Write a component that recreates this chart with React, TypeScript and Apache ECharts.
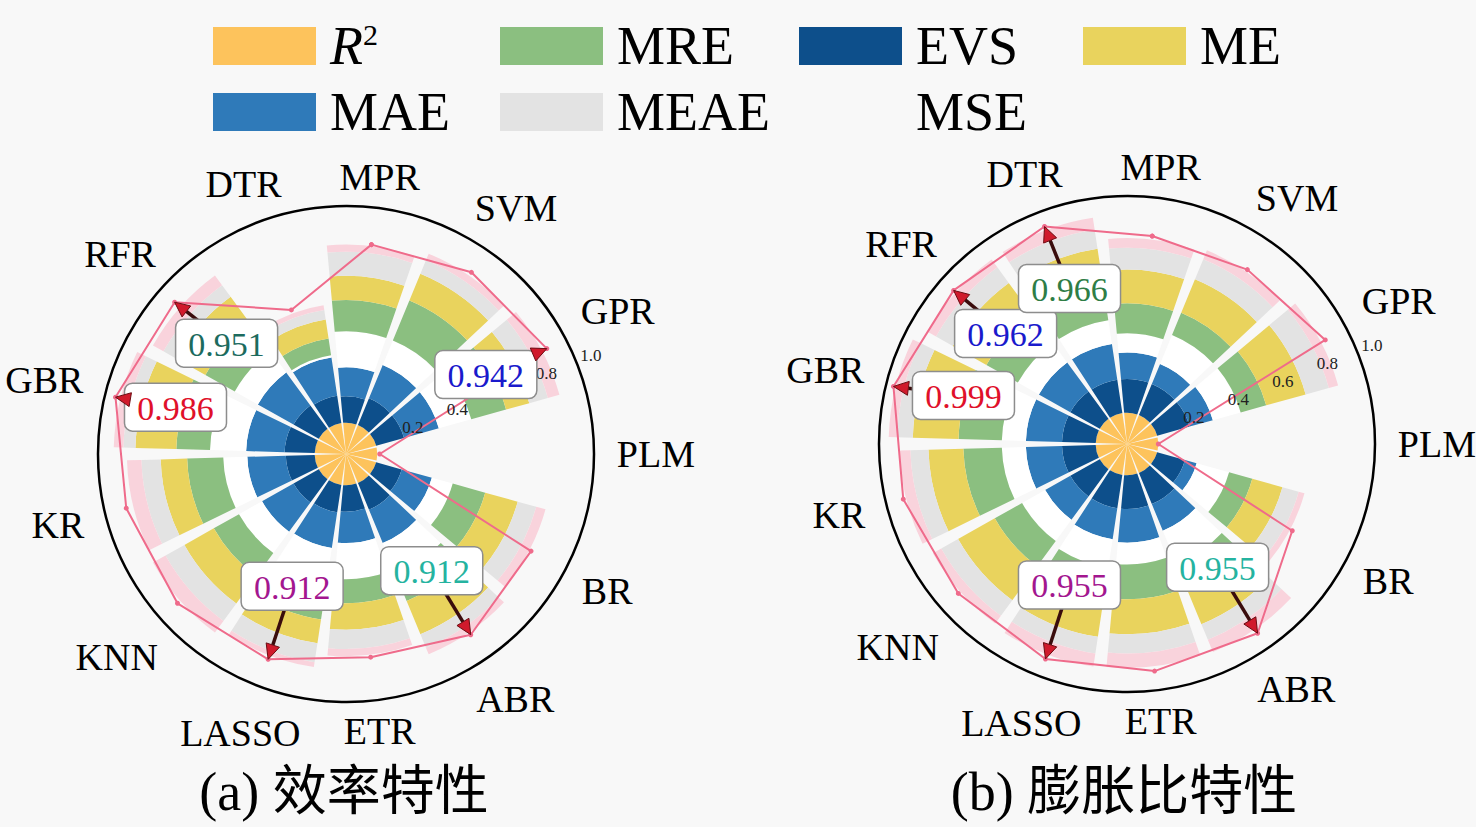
import React, { useEffect, useRef } from 'react';
import * as echarts from 'echarts';

// ---------- data ----------
const categories = ['MPR', 'SVM', 'GPR', 'PLM', 'BR', 'ABR', 'ETR', 'LASSO', 'KNN', 'KR', 'GBR', 'RFR', 'DTR'];

// (a) efficiency – stacked radial segments
const r2A = [0.13, 0.13, 0.13, 0.13, 0.13, 0.13, 0.13, 0.13, 0.13, 0.13, 0.13, 0.13, 0.13];
const evsA = [0.11, 0.12, 0.12, 0, 0.11, 0.12, 0.11, 0.115, 0.12, 0.12, 0.125, 0.12, 0.115];
const maeA = [0.12, 0.15, 0.15, 0, 0.13, 0.15, 0.13, 0.15, 0.15, 0.16, 0.16, 0.17, 0.16];
const mseA = [0.15, 0.11, 0.14, 0, 0.09, 0.14, 0.15, 0.15, 0.11, 0.1, 0.15, 0.11, 0.01];
const mreA = [0.13, 0.18, 0.15, 0, 0.14, 0.12, 0.1, 0.15, 0.12, 0.15, 0.14, 0.14, 0.07];
const meA = [0.1, 0.12, 0.1, 0, 0.14, 0.15, 0.11, 0.1, 0.14, 0.11, 0.17, 0.14, 0.08];
const meaeA = [0.1, 0.06, 0.08, 0, 0.08, 0.06, 0.08, 0.08, 0.09, 0.08, 0.05, 0.06, 0.04];
const capA = [0.03, 0.03, 0.05, 0, 0.04, 0.03, 0.03, 0.02, 0.06, 0.06, 0.04, 0.05, 0.02];
const lineA = [0.876, 0.917, 0.942, 0.14, 0.868, 0.912, 0.85, 0.912, 0.935, 0.94, 0.986, 0.951, 0.64];

// (b) expansion ratio
const r2B = [0.13, 0.13, 0.13, 0.13, 0.13, 0.13, 0.13, 0.13, 0.13, 0.13, 0.13, 0.13, 0.13];
const evsB = [0.14, 0.14, 0.14, 0, 0.12, 0.14, 0.14, 0.14, 0.14, 0.14, 0.14, 0.14, 0.14];
const maeB = [0.11, 0.09, 0.1, 0, 0.05, 0.12, 0.14, 0.13, 0.12, 0.15, 0.15, 0.15, 0.15];
const mseB = [0.08, 0.13, 0.12, 0, 0.14, 0.15, 0.09, 0.12, 0.11, 0.1, 0.1, 0.1, 0.1];
const mreB = [0.125, 0.1, 0.11, 0, 0.1, 0.125, 0.145, 0.145, 0.13, 0.16, 0.18, 0.15, 0.15];
const meB = [0.14, 0.15, 0.17, 0, 0.13, 0.145, 0.145, 0.145, 0.175, 0.145, 0.19, 0.16, 0.15];
const meaeB = [0.09, 0.09, 0.1, 0, 0.07, 0.07, 0.08, 0.07, 0.08, 0.075, 0.065, 0.08, 0.08];
const capB = [0.04, 0.04, 0.04, 0, 0.025, 0.055, 0.06, 0.055, 0.04, 0.045, 0.035, 0.04, 0.05];
const lineB = [0.87, 0.88, 0.93, 0.13, 0.775, 0.955, 0.95, 0.955, 0.936, 0.957, 0.999, 0.962, 0.966];

// annotations (category, text, colour)
const annotA = [
  { cat: 'GBR', text: '0.986', color: '#e0102a' },
  { cat: 'RFR', text: '0.951', color: '#1c6b5e' },
  { cat: 'GPR', text: '0.942', color: '#1a1acc' },
  { cat: 'LASSO', text: '0.912', color: '#a3168f' },
  { cat: 'ABR', text: '0.912', color: '#25b3a0' },
];
const annotB = [
  { cat: 'GBR', text: '0.999', color: '#e0102a' },
  { cat: 'RFR', text: '0.962', color: '#1a1acc' },
  { cat: 'DTR', text: '0.966', color: '#2e7d46' },
  { cat: 'LASSO', text: '0.955', color: '#a3168f' },
  { cat: 'ABR', text: '0.955', color: '#25b3a0' },
];
// layout: box-centre offsets (px) from the arrow tip
const boxOffsetA = [[60, 10], [52, 41], [-61, 26], [24, -73], [-39, -64]];
const boxOffsetB = [[70, 9], [52, 43], [25, 62], [24, -74], [-40, -66]];

// radial tick labels visible in each panel (0.6 of panel a is hidden under a box)
const radialTicksA = [0.2, 0.4, 0.8, 1.0];
const radialTicksB = [0.2, 0.4, 0.6, 0.8, 1.0];

// ---------- style ----------
const SERIF = '"Liberation Serif", "Times New Roman", serif';
const LABEL_FONT = `38px ${SERIF}`;
const COL = {
  r2: '#fdc35c', evs: '#0d4f8b', mae: '#2f7ab9', mse: '#ffffff',
  mre: '#8bbf80', me: '#e9d35d', meae: '#e3e3e3', cap: '#f9d3dc', line: '#ef6b8b',
};
const BG = '#f8f8f8';
const START = 3.5 * (360 / categories.length);
const LABEL_GAP = 265; // px from centre to the near edge of a category label
const LABEL_HALF_H = 9;
const LABEL_W_FACTOR = 1.15;

let measureCtx: CanvasRenderingContext2D | null = null;
function textWidth(t: string, font: string) {
  if (!measureCtx) measureCtx = document.createElement('canvas').getContext('2d');
  if (!measureCtx) return t.length * 22;
  measureCtx.font = font;
  return measureCtx.measureText(t).width;
}

function catLabelRender(params: any, api: any) {
  const i = api.value(1);
  const c = api.coord([0, i]);
  const e = api.coord([1, i]);
  const dx = e[0] - c[0], dy = e[1] - c[1];
  const L = Math.hypot(dx, dy) || 1;
  const ux = dx / L, uy = dy / L;
  const txt = categories[i];
  const hw = textWidth(txt, LABEL_FONT) / 2;
  const d = LABEL_GAP + Math.abs(ux) * hw * LABEL_W_FACTOR + Math.abs(uy) * LABEL_HALF_H;
  return {
    type: 'text', x: c[0] + ux * d, y: c[1] + uy * d,
    style: { text: txt, font: LABEL_FONT, fill: '#000', align: 'center', verticalAlign: 'middle' },
  };
}

function annotRender(annots: any[], offsets: number[][]) {
  return (params: any, api: any) => {
    const i = params.dataIndex;
    const tip = api.coord([api.value(0), api.value(1)]);
    const [ox, oy] = offsets[i];
    const cx = tip[0] + ox;
    const cy = tip[1] + oy;
    const dx = tip[0] - cx;
    const dy = tip[1] - cy;
    const len = Math.hypot(dx, dy) || 1;
    const ux = dx / len, uy = dy / len;
    const nx = -uy, ny = ux;
    const hl = 15, hw = 7;
    const bx = tip[0] - ux * hl, by = tip[1] - uy * hl;
    return {
      type: 'group',
      children: [
        { type: 'line', shape: { x1: cx, y1: cy, x2: bx, y2: by }, style: { stroke: '#3a0c0c', lineWidth: 3.5 } },
        { type: 'rect', shape: { x: cx - 51, y: cy - 24, width: 102, height: 48, r: 8 }, style: { fill: '#ffffff', stroke: '#8d8d8d', lineWidth: 1.5 } },
        {
          type: 'polygon',
          shape: { points: [[tip[0], tip[1]], [bx + nx * hw, by + ny * hw], [bx - nx * hw, by - ny * hw]] },
          style: { fill: '#d01a2c', stroke: '#6b0c12', lineWidth: 1 },
        },
        {
          type: 'text', x: cx, y: cy + 1,
          style: { text: annots[i].text, fill: annots[i].color, font: `34px ${SERIF}`, align: 'center', verticalAlign: 'middle' },
        },
      ],
    };
  };
}

function chartSeries(pi: number, segs: { name: string; data: number[]; color: string }[], line: number[], annots: any[], offsets: number[][]) {
  const out: any[] = segs.map((s) => ({
    type: 'bar', name: s.name, coordinateSystem: 'polar', polarIndex: pi, stack: 'st' + pi,
    data: s.data, barCategoryGap: '12%', itemStyle: { color: s.color }, z: 2, silent: true,
  }));
  const closed = line.map((v, i) => [v, i]).concat([[line[0], 0]]);
  out.push({
    type: 'line', name: 'R2line' + pi, coordinateSystem: 'polar', polarIndex: pi, data: closed,
    encode: { radius: 0, angle: 1 },
    symbol: 'circle', symbolSize: 5, itemStyle: { color: COL.line }, lineStyle: { color: COL.line, width: 2 }, z: 3, silent: true,
  });
  out.push({
    type: 'custom', name: 'catLabels' + pi, coordinateSystem: 'polar', polarIndex: pi,
    encode: { radius: 0, angle: 1 },
    data: categories.map((_, i) => [1, i]),
    renderItem: catLabelRender, z: 4, silent: true, clip: false,
  });
  out.push({
    type: 'custom', name: 'annot' + pi, coordinateSystem: 'polar', polarIndex: pi,
    encode: { radius: 0, angle: 1 },
    data: annots.map((a) => { const idx = categories.indexOf(a.cat); return [line[idx], idx]; }),
    renderItem: annotRender(annots, offsets), z: 6, silent: true, clip: false,
  });
  return out;
}

const segsA = [
  { name: 'R²', data: r2A, color: COL.r2 },
  { name: 'EVS', data: evsA, color: COL.evs },
  { name: 'MAE', data: maeA, color: COL.mae },
  { name: 'MSE', data: mseA, color: COL.mse },
  { name: 'MRE', data: mreA, color: COL.mre },
  { name: 'ME', data: meA, color: COL.me },
  { name: 'MEAE', data: meaeA, color: COL.meae },
  { name: 'cap', data: capA, color: COL.cap },
];
const segsB = [
  { name: 'R²', data: r2B, color: COL.r2 },
  { name: 'EVS', data: evsB, color: COL.evs },
  { name: 'MAE', data: maeB, color: COL.mae },
  { name: 'MSE', data: mseB, color: COL.mse },
  { name: 'MRE', data: mreB, color: COL.mre },
  { name: 'ME', data: meB, color: COL.me },
  { name: 'MEAE', data: meaeB, color: COL.meae },
  { name: 'cap', data: capB, color: COL.cap },
];

function tickFmt(ticks: number[]) {
  return (v: number) => {
    const k = Math.round(v * 10);
    if (k <= 0) return '';
    return ticks.some((t) => Math.abs(t - k / 10) < 1e-6) ? (k / 10).toFixed(1) : '';
  };
}

const legendCommon = {
  orient: 'vertical', icon: 'rect', itemWidth: 103, itemHeight: 38, itemGap: 12, selectedMode: false, top: 19, padding: 0,
  formatter: (n: string) => (n === 'R²' ? '{i|R}{s|2}' : n),
  textStyle: {
    fontSize: 54, lineHeight: 54, fontFamily: SERIF, color: '#000', padding: [0, 0, 0, 9],
    rich: {
      i: { fontSize: 54, lineHeight: 54, fontStyle: 'italic', fontFamily: SERIF, color: '#000' },
      s: { fontSize: 30, lineHeight: 30, fontFamily: SERIF, color: '#000', verticalAlign: 'top' },
    },
  },
};

function angleAxisMain(pi: number) {
  return {
    polarIndex: pi, type: 'category', data: categories, startAngle: START, clockwise: true, boundaryGap: true,
    axisLine: { show: true, lineStyle: { color: '#000', width: 2.5 } },
    axisTick: { show: false }, splitLine: { show: false },
    axisLabel: { show: false },
    z: 1,
  };
}

function radiusLabelAxis(pi: number, ticks: number[]) {
  return {
    polarIndex: pi, type: 'value', min: -0.1, max: 1.0, interval: 0.1,
    axisLine: { show: false }, axisTick: { show: false }, splitLine: { show: false },
    axisLabel: { formatter: tickFmt(ticks), fontSize: 17, fontFamily: SERIF, color: '#222', margin: 0, align: 'center', verticalAlign: 'middle' },
    z: 5,
  };
}

export default function App() {
  const ref = useRef<HTMLDivElement>(null);
  useEffect(() => {
    if (!ref.current) return;
    const chart = echarts.init(ref.current, undefined, { renderer: 'svg' });
    const option: any = {
      animation: false,
      backgroundColor: BG,
      legend: [
        { ...legendCommon, left: 213, data: ['R²', 'MAE'] },
        { ...legendCommon, left: 500, data: ['MRE', 'MEAE'] },
        { ...legendCommon, left: 799, data: ['EVS', { name: 'MSE', itemStyle: { color: 'rgba(255,255,255,0)' } }] },
        { ...legendCommon, left: 1083, data: ['ME'] },
      ],
      polar: [
        { center: [346, 454], radius: 248 },
        { center: [1127, 444], radius: 248 },
        { center: [346, 454], radius: 264 },
        { center: [1127, 444], radius: 264 },
      ],
      angleAxis: [
        angleAxisMain(0),
        angleAxisMain(1),
        { polarIndex: 2, type: 'value', min: 0, max: 360, startAngle: 22, show: false },
        { polarIndex: 3, type: 'value', min: 0, max: 360, startAngle: 22, show: false },
      ],
      radiusAxis: [
        { polarIndex: 0, type: 'value', min: 0, max: 1.03, show: false },
        { polarIndex: 1, type: 'value', min: 0, max: 1.03, show: false },
        radiusLabelAxis(2, radialTicksA),
        radiusLabelAxis(3, radialTicksB),
      ],
      series: [
        ...chartSeries(0, segsA, lineA, annotA, boxOffsetA),
        ...chartSeries(1, segsB, lineB, annotB, boxOffsetB),
      ],
      graphic: [
        { type: 'text', x: 344, y: 792, style: { text: '(a) 效率特性', font: `54px ${SERIF}, "Noto Sans CJK SC"`, fill: '#000', align: 'center', verticalAlign: 'middle' } },
        { type: 'text', x: 1124, y: 792, style: { text: '(b) 膨胀比特性', font: `54px ${SERIF}, "Noto Sans CJK SC"`, fill: '#000', align: 'center', verticalAlign: 'middle' } },
      ],
    };
    chart.setOption(option);
    return () => chart.dispose();
  }, []);
  return <div ref={ref} style={{ position: 'fixed', left: 0, top: 0, width: 1476, height: 827 }} />;
}
